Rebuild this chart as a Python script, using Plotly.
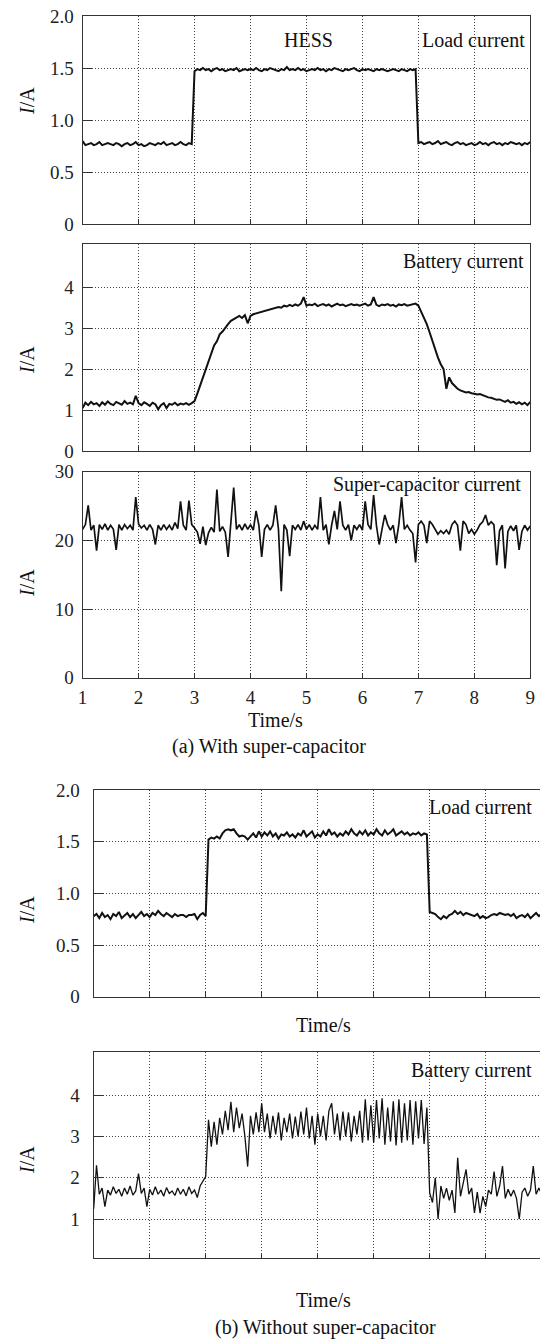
import plotly.graph_objects as go

# ---------------- data ----------------
t_start, t_step, n_samples = 1.0, 0.05, 161
time_s = [round(t_start + t_step * i, 2) for i in range(n_samples)]

# (a) With super-capacitor
load_a = [
    0.80, 0.76, 0.77, 0.78, 0.76, 0.77, 0.79, 0.76, 0.77, 0.78,
    0.77, 0.76, 0.78, 0.77, 0.75, 0.77, 0.78, 0.76, 0.77, 0.79,
    0.76, 0.77, 0.75, 0.76, 0.78, 0.77, 0.76, 0.78, 0.77, 0.79,
    0.76, 0.77, 0.78, 0.76, 0.77, 0.79, 0.77, 0.76, 0.78, 0.77,
    1.47, 1.49, 1.48, 1.50, 1.48, 1.49, 1.47, 1.49, 1.50, 1.48,
    1.49, 1.47, 1.48, 1.49, 1.48, 1.50, 1.47, 1.48, 1.49, 1.48,
    1.49, 1.48, 1.50, 1.48, 1.47, 1.49, 1.48, 1.50, 1.49, 1.48,
    1.47, 1.49, 1.48, 1.51, 1.48, 1.49, 1.48, 1.50, 1.48, 1.49,
    1.47, 1.48, 1.49, 1.48, 1.50, 1.48, 1.49, 1.47, 1.49, 1.48,
    1.50, 1.49, 1.48, 1.47, 1.49, 1.48, 1.49, 1.50, 1.48, 1.47,
    1.49, 1.48, 1.49, 1.48, 1.47, 1.49, 1.48, 1.49, 1.48, 1.47,
    1.48, 1.49, 1.48, 1.47, 1.49, 1.48, 1.47, 1.49, 1.48, 1.49,
    0.78, 0.79, 0.77, 0.78, 0.79, 0.77, 0.78, 0.80, 0.77, 0.78,
    0.79, 0.77, 0.76, 0.78, 0.79, 0.77, 0.78, 0.76, 0.77, 0.78,
    0.76, 0.77, 0.79, 0.77, 0.78, 0.76, 0.78, 0.79, 0.77, 0.78,
    0.76, 0.78, 0.77, 0.79, 0.78, 0.77, 0.78, 0.76, 0.78, 0.77,
    0.79,
]

battery_a = [
    1.05, 1.18, 1.12, 1.20, 1.14, 1.17, 1.10, 1.19, 1.13, 1.21,
    1.15, 1.12, 1.20, 1.16, 1.13, 1.22, 1.15, 1.18, 1.14, 1.35,
    1.17, 1.12, 1.19, 1.15, 1.10, 1.18, 1.14, 1.02, 1.12, 1.17,
    1.05, 1.15, 1.13, 1.18, 1.12, 1.16, 1.14, 1.17, 1.13, 1.17,
    1.22, 1.40, 1.60, 1.80, 1.98, 2.18, 2.40, 2.58, 2.68, 2.85,
    2.92, 3.02, 3.10, 3.18, 3.22, 3.28, 3.30, 3.25, 3.32, 3.12,
    3.30, 3.34, 3.36, 3.38, 3.40, 3.42, 3.44, 3.45, 3.48, 3.50,
    3.52, 3.50, 3.55, 3.53, 3.57, 3.54, 3.58, 3.55, 3.60, 3.76,
    3.55, 3.58, 3.56, 3.60, 3.54, 3.57, 3.59, 3.55, 3.58, 3.53,
    3.57, 3.60, 3.56, 3.58, 3.54, 3.57, 3.59, 3.56, 3.58, 3.55,
    3.57, 3.60, 3.55, 3.58, 3.76, 3.57, 3.54, 3.58, 3.56, 3.59,
    3.55, 3.57, 3.53, 3.58, 3.56, 3.59, 3.55, 3.57, 3.58, 3.60,
    3.55, 3.40, 3.25, 3.10, 2.90, 2.68, 2.45, 2.28, 2.12, 2.00,
    1.52, 1.80, 1.66, 1.58, 1.52, 1.48, 1.45, 1.43, 1.44, 1.41,
    1.40, 1.38, 1.39, 1.36, 1.34, 1.31, 1.30, 1.28, 1.25, 1.26,
    1.22, 1.20, 1.24, 1.18, 1.20, 1.15, 1.19, 1.14, 1.18, 1.12,
    1.20,
]

supercap_a = [
    21.6, 22.3, 25.1, 21.5, 22.2, 18.5, 22.3, 21.6, 22.4, 21.5,
    22.2, 21.6, 18.6, 22.3, 21.5, 22.3, 21.7, 22.2, 21.5, 26.3,
    22.4, 21.8, 22.2, 21.5, 22.3, 21.6, 19.4, 22.2, 21.5, 22.3,
    21.6, 22.2, 21.5, 22.6, 21.7, 25.7, 22.2, 21.5, 25.8, 22.3,
    21.8, 21.2, 19.5, 22.0, 19.3, 21.1, 21.9, 21.2, 27.4, 21.3,
    22.0, 21.2, 17.6, 22.4, 27.7, 21.6, 22.3, 21.5, 22.4, 21.6,
    22.3, 21.5, 24.3, 22.2, 17.6, 21.6, 22.3, 21.5, 22.2, 25.1,
    21.6, 12.6, 22.3, 21.5, 17.7, 22.2, 21.6, 22.3, 21.5, 22.8,
    21.6, 22.3, 21.5, 22.2, 21.6, 26.3, 21.5, 22.3, 19.4, 22.2,
    24.3, 21.6, 25.7, 22.2, 21.5, 22.3, 20.0, 22.2, 21.6, 22.3,
    21.5, 25.7, 22.3, 21.6, 26.6, 22.2, 19.4, 21.6, 23.7, 22.3,
    21.5, 22.2, 19.6, 22.3, 26.3, 21.6, 22.2, 21.5, 21.0, 16.8,
    22.3, 22.8, 22.2, 19.6, 22.8, 22.3, 21.5, 20.9, 21.4, 21.0,
    21.5, 20.9, 22.3, 22.8, 22.2, 18.5, 22.8, 22.3, 21.0, 21.6,
    20.9, 21.5, 22.3, 22.7, 23.7, 22.2, 22.7, 22.3, 16.4, 21.4,
    22.2, 15.9, 21.3, 22.1, 21.4, 22.2, 18.6, 21.3, 22.2, 21.5,
    22.1,
]

# (b) Without super-capacitor
load_b = [
    0.78, 0.80, 0.76, 0.81, 0.77, 0.79, 0.75, 0.80, 0.78, 0.82,
    0.76, 0.79, 0.81, 0.77, 0.80, 0.76, 0.79, 0.82, 0.78, 0.80,
    0.77, 0.81, 0.79, 0.83, 0.80, 0.78, 0.81, 0.79, 0.77, 0.80,
    0.78, 0.79, 0.79, 0.77, 0.79, 0.79, 0.80, 0.75, 0.79, 0.81,
    0.78, 1.52, 1.54, 1.53, 1.55, 1.53, 1.58, 1.61, 1.62, 1.61,
    1.62, 1.58, 1.55, 1.56, 1.55, 1.52, 1.55, 1.58, 1.54, 1.60,
    1.55, 1.59, 1.56, 1.60, 1.55, 1.58, 1.53, 1.57, 1.56, 1.59,
    1.55, 1.57, 1.54, 1.58, 1.56, 1.61, 1.55, 1.58, 1.60, 1.54,
    1.57, 1.55, 1.60, 1.56, 1.62, 1.57, 1.59, 1.55, 1.58, 1.56,
    1.60, 1.57, 1.62, 1.58, 1.56, 1.60, 1.57, 1.61, 1.56, 1.59,
    1.57, 1.62, 1.58, 1.56, 1.61, 1.57, 1.59, 1.62, 1.56, 1.58,
    1.60, 1.57, 1.59, 1.56, 1.58, 1.57, 1.59, 1.56, 1.58, 1.57,
    0.82, 0.81, 0.80, 0.77, 0.75, 0.78, 0.76, 0.79, 0.80, 0.83,
    0.80, 0.82, 0.79, 0.81, 0.80, 0.79, 0.78, 0.80, 0.76, 0.78,
    0.76, 0.77, 0.79, 0.80, 0.79, 0.81, 0.80, 0.79, 0.80, 0.78,
    0.80, 0.76, 0.78, 0.79, 0.77, 0.80, 0.76, 0.79, 0.81, 0.78,
    0.80,
]

battery_b = [
    1.25, 2.30, 1.60, 1.75, 1.30, 1.70, 1.58, 1.78, 1.62, 1.72,
    1.55, 1.75, 1.60, 1.80, 1.58, 1.68, 2.10, 1.62, 1.75, 1.30,
    1.72, 1.58, 1.78, 1.60, 1.70, 1.55, 1.76, 1.62, 1.68, 1.57,
    1.75, 1.60, 1.72, 1.56, 1.78, 1.62, 1.70, 1.52, 1.80, 1.90,
    2.03, 3.40, 2.75, 3.35, 2.80, 3.45, 3.05, 3.62, 3.15, 3.84,
    3.10, 3.70, 3.20, 3.55, 3.00, 2.27, 3.50, 3.05, 3.58, 3.10,
    3.80, 3.10, 3.55, 2.95, 3.50, 3.05, 3.58, 2.90, 3.45, 3.10,
    3.55, 2.95, 3.48, 3.00, 3.60, 3.05, 3.70, 2.95, 3.50, 2.80,
    3.55, 3.00, 3.50, 2.90, 3.62, 3.80, 3.05, 3.55, 2.90, 3.60,
    3.00, 3.58, 2.88, 3.50, 3.05, 3.62, 2.85, 3.90, 2.90, 3.75,
    2.85, 3.88, 2.95, 3.92, 2.80, 3.70, 2.88, 3.85, 2.78, 3.90,
    2.85, 3.80, 2.90, 3.88, 2.80, 3.85, 2.95, 3.88, 2.82, 3.70,
    1.63, 1.40, 2.00, 1.00, 1.80, 1.50, 1.75, 1.45, 1.70, 1.15,
    2.48, 1.55, 1.85, 2.20, 1.60, 1.75, 1.15, 1.65, 1.14, 1.55,
    1.30, 1.70, 1.60, 2.15, 1.55, 1.80, 2.28, 1.50, 1.72, 1.55,
    1.70, 1.50, 1.00, 1.65, 1.75, 1.55, 1.70, 2.28, 1.60, 1.75,
    1.60,
]

x_ticks = [1, 2, 3, 4, 5, 6, 7, 8, 9]
y_load_ticks = [0, 0.5, 1.0, 1.5, 2.0]
y_load_text = ["0", "0.5", "1.0", "1.5", "2.0"]
y_batt_a_ticks = [0, 1, 2, 3, 4]
y_sc_ticks = [0, 10, 20, 30]
y_batt_b_ticks = [1, 2, 3, 4]

# ---------------- figure ----------------
W, H = 540, 1340
SERIF = "Liberation Serif, Times New Roman, serif"
INK = "#111111"


def py(p):
    return 1 - p / H


def px(p):
    return p / W


fig = go.Figure()
series = [
    (load_a, "x", "y", 2.0),
    (battery_a, "x2", "y2", 2.0),
    (supercap_a, "x3", "y3", 1.7),
    (load_b, "x4", "y4", 2.0),
    (battery_b, "x5", "y5", 1.3),
]
for vals, xa, ya, lw in series:
    fig.add_trace(go.Scatter(x=time_s, y=vals, xaxis=xa, yaxis=ya, mode="lines",
                             line=dict(color=INK, width=lw), hoverinfo="skip"))

common = dict(showline=True, linecolor="#333333", linewidth=1.2, showgrid=True,
              gridcolor="#444444", griddash="1px,2px", gridwidth=1, zeroline=False,
              ticks="inside", tickcolor="#333333", tickwidth=1.2, automargin=False,
              ticklabeloverflow="allow",
              tickfont=dict(family=SERIF, size=19, color="#222222"))

a_x_dom = [px(82.6), px(530.3)]
b_x_dom = [px(93.7), 1.0]

panels = [
    (a_x_dom, (16, 224.3), [0, 2], y_load_ticks, y_load_text, True, [1, 9], False),
    (a_x_dom, (244.3, 451), [0, 5.05], y_batt_a_ticks, [str(v) for v in y_batt_a_ticks], True, [1, 9], False),
    (a_x_dom, (471.7, 677.7), [0, 30], y_sc_ticks, [str(v) for v in y_sc_ticks], True, [1, 9], True),
    (b_x_dom, (790, 996.7), [0, 2], y_load_ticks, y_load_text, False, [1, 8.97], False),
    (b_x_dom, (1051.7, 1258.3), [0.05, 5.05], y_batt_b_ticks, [str(v) for v in y_batt_b_ticks], False, [1, 8.97], False),
]

layout = dict(width=W, height=H, margin=dict(l=0, r=0, t=0, b=0, pad=0, autoexpand=False),
              paper_bgcolor="white", plot_bgcolor="white", showlegend=False)

for k, (xd, (ytop, ybot), yr, yt, ytt, mir, xr, xlab) in enumerate(panels, start=1):
    sfx = "" if k == 1 else str(k)
    layout["xaxis" + sfx] = dict(common, domain=xd, range=xr, tickvals=x_ticks,
                                 ticklen=5, mirror=True, showticklabels=xlab,
                                 ticklabelstandoff=2,
                                 anchor="y" + sfx)
    layout["yaxis" + sfx] = dict(common, domain=[py(ybot), py(ytop)], range=yr,
                                 tickvals=yt, ticktext=ytt, ticklen=9, mirror=mir,
                                 ticklabelstandoff=4 if mir else 9,
                                 anchor="x" + sfx)

fig.update_layout(**layout)

ann_font = dict(family=SERIF, size=20, color="#111111")


def note(text, xr_px, y_px, anchor="right", angle=0):
    fig.add_annotation(text=text, x=px(xr_px), y=py(y_px), xref="paper", yref="paper",
                       xanchor=anchor, yanchor="middle", showarrow=False,
                       font=ann_font, textangle=angle, borderpad=0)


note("HESS", 308, 40, "center")
note("Load current", 526, 40)
note("Battery current", 525, 262)
note("Super-capacitor current", 522, 484)
note("Load current", 533, 807)
note("Battery current", 533, 1070)

note("Time/s", 275, 720, "center")
note("(a) With super-capacitor", 269, 747, "center")
note("Time/s", 323, 1025, "center")
note("Time/s", 323, 1300, "center")
note("(b) Without super-capacitor", 325, 1327, "center")

for yc in (101, 360, 583, 910, 1160):
    note("<i>I</i>/A", 27, yc, "center", -90)

fig.write_html("out.html", config={"displayModeBar": False},
               post_script="document.body.style.margin='0px';document.body.style.overflow='hidden';")
